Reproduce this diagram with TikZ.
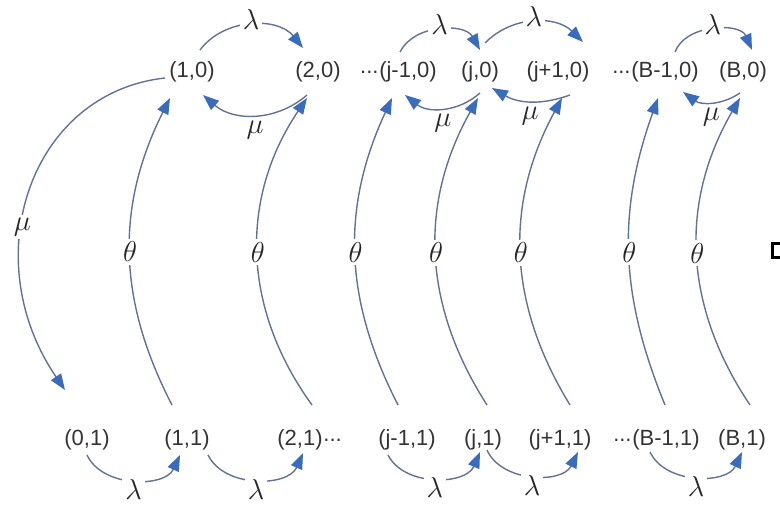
\documentclass[tikz,border=0pt]{standalone}
\usepackage{fontspec}
\setmainfont{Liberation Sans}
\usetikzlibrary{arrows.meta,positioning}
\definecolor{arcgray}{RGB}{98,114,148}
\definecolor{tipblue}{RGB}{58,108,190}

\begin{document}
\begin{tikzpicture}[
		x=0.5pt, y=0.5pt,
		state/.style={font=\fontsize{11}{13}\selectfont, text=black!80, inner sep=0pt},
		rate/.style={font=\fontsize{15}{15}\selectfont, text=black!85, fill=white, inner sep=1.5pt},
		flow/.style={draw=arcgray, line width=0.7pt, -{Triangle[length=8pt,width=6pt,color=tipblue]}}
	]
	\useasboundingbox (0,0) rectangle (780,508);

	% Top row: states (k,0)
	\foreach \nm/\x/\txt in {
			n10/192/{(1,0)},
			n20/318/{(2,0)},
			nj1/408/{(j-1,0)},
			nj0/480/{(j,0)},
			njp/558/{(j+1,0)},
			nB1/665/{(B-1,0)},
			nB0/743/{(B,0)}
		} {
			\node[state] (\nm) at (\x,436) {\txt};
		}

	% Bottom row: states (k,1)
	\foreach \nm/\x/\txt in {
			m01/87/{(0,1)},
			m11/187/{(1,1)},
			m21/300/{(2,1)},
			mj1/407/{(j-1,1)},
			mj0/483/{(j,1)},
			mjp/560/{(j+1,1)},
			mB1/666/{(B-1,1)},
			mB0/742/{(B,1)}
		} {
			\node[state] (\nm) at (\x,68) {\txt};
		}

	% Dots between the groups
	\node[state, left=0pt of nj1] (gapa) {...};
	\node[state, left=0pt of nB1] (gapb) {...};
	\node[state, right=0pt of m21] (gapc) {...};
	\node[state, left=0pt of mB1] (gapd) {...};

	% Arrivals on the top row
	\foreach \a/\b/\ax/\ay/\bx/\by/\bend in {
			n10/n20/8/22/-15/24/52,
			nj1/nj0/-8/20/0/22/62,
			nj0/njp/5/29/25/30/45,
			nB1/nB0/10/20/9/22/68
		} {
			\draw[flow] ([shift={(\ax,\ay)}]\a.center) to[bend left=\bend]
				node[rate, yshift=3pt] {$\lambda$} ([shift={(\bx,\by)}]\b.center);
		}

	% Services on the top row
	\foreach \a/\b/\ax/\ay/\bx/\by/\bend in {
			n20/n10/-11/-23/11/-23/41,
			nj0/nj1/0/-21/-3/-23/40,
			njp/nj0/12/-23/12/-16/25,
			nB0/nB1/-3/-21/18/-20/35
		} {
			\draw[flow] ([shift={(\ax,\ay)}]\a.center) to[bend left=\bend]
				node[rate, below=1pt] {$\mu$} ([shift={(\bx,\by)}]\b.center);
		}

	% Vacation ends: (k,1) to (k,0)
	\foreach \b/\t/\bx/\tx/\bend in {
			m11/n10/-15/-22/27,
			m21/n20/12/-11/35,
			mj1/nj1/-9/-16/26,
			mj0/nj0/4/-2/31,
			mjp/njp/10/4/30,
			mB1/nB1/-1/-7/21,
			mB0/nB0/8/-3/32
		} {
			\draw[flow] ([shift={(\bx,35)}]\b.center) to[bend left=\bend]
				node[rate] {$\theta$} ([shift={(\tx,-26)}]\t.center);
		}

	% Arrivals on the bottom row
	\foreach \a/\b/\ax/\ay/\bx/\by in {
			m01/m11/0/-15/-7/-15,
			m11/m21/21/-15/3/-13,
			mj1/mj0/-19/-15/-3/-12,
			mj0/mjp/4/-10/18/-12,
			mB1/mB0/-16/-12/0/-12
		} {
			\draw[flow] ([shift={(\ax,\ay)}]\a.center) to[bend right=65]
				node[rate, yshift=-5pt] {$\lambda$} ([shift={(\bx,\by)}]\b.center);
		}

	% Last service empties the system
	\draw[flow] ([shift={(-27,-6)}]n10.center) .. controls +(-135,-15) and +(-90,132) ..
		node[rate, pos=.6] {$\mu$} ([shift={(-22,50)}]m01.center);

	% Mark at the right edge
	\draw[line width=1.5pt] (772,250) rectangle (792,264);

\end{tikzpicture}
\end{document}
